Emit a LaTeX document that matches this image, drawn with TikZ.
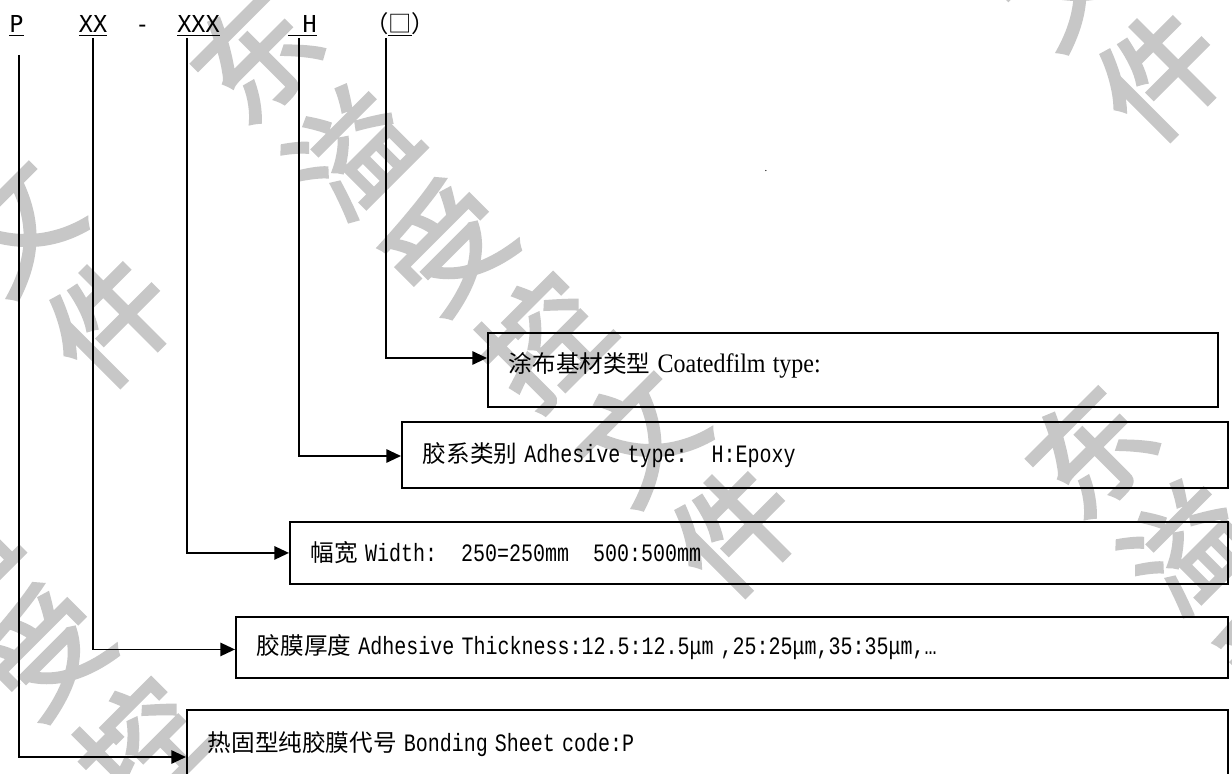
\documentclass[tikz,border=0pt]{standalone}
\usepackage{fontspec}
\setmainfont{Liberation Serif}
\setmonofont{Liberation Mono}[FakeStretch=0.8]
\newfontfamily\cjk{Noto Sans CJK SC}
\newfontfamily\wmfont{Noto Sans CJK SC}[FakeBold=3]
\newfontfamily\codefont{DejaVu Sans Mono}
\newfontfamily\narrowserif{Liberation Serif}[FakeStretch=0.9]
\usetikzlibrary{arrows.meta,calc}

\newcommand{\zh}[1]{{\cjk\fontsize{17.7}{20}\selectfont #1}}
\newcommand{\en}[1]{{\ttfamily\fontsize{18.75}{20}\selectfont #1}}
\newcommand{\gap}{\hspace*{18pt}}

\begin{document}
\begin{tikzpicture}[
        x=0.75pt, y=-0.75pt,
        >={Triangle[length=11pt,width=10pt]},
        entry/.style={rectangle, draw, line width=1.4pt, anchor=north west, inner xsep=15.75pt, inner ysep=0pt, align=left, font=\fontsize{16}{20}\selectfont},
        code/.style={anchor=base, inner sep=0pt, font=\codefont\fontsize{17.5}{20}\selectfont},
        wire/.style={->, line width=1.4pt},
        wm/.style={rotate=45, inner sep=0pt, text=black!22, font=\wmfont\fontsize{90}{90}\selectfont}
    ]

        \fill[white] (0,0) rectangle (1232,774);
        \useasboundingbox (0,0) rectangle (1232,774);
        \clip (0,0) rectangle (1232,774);

        % Watermark
        \foreach \ox/\oy [count=\j] in {255/55, 1090/450, 680/-401, -370/-155, -147/460}
            \foreach \ch [count=\i from 0] in {东,溢,受,控,文,件}
                \node[wm] (wm\j_\i) at (\ox+\i*96, \oy+\i*95) {\ch};

        % Code: P XX - XXX H (box)
        \node[code] (p) at (16.5,33) {\underline{P}};
        \node[code] (xx) at (93,33) {\underline{XX}};
        \node[code] (dash) at (142.5,33) {-};
        \node[code] (xxx) at (198.5,33) {\underline{XXX}};
        \node[code] (h) at (302.5,33) {\underline{\ H}};
        \node[code, font=\cjk\fontsize{17.5}{20}\selectfont] (cf) at (400,33) {（\underline{□}）};
        \node[inner sep=0pt, font=\fontsize{8}{8}\selectfont] (stray) at (766,171) {.};

        \coordinate (p_top) at (19,55);
        \coordinate (xx_top) at (93,38);
        \coordinate (xxx_top) at (187,38);
        \coordinate (h_top) at (299,38);
        \coordinate (cf_top) at (386,38);

        % Boxes
        \node[entry, text width=516pt, minimum height=55.5pt, text depth=11pt] (coat) at (487,332)
            {\zh{涂布基材类型} {\narrowserif\fontsize{20}{20}\selectfont Coatedfilm type:}};
        \node[entry, text width=588pt, minimum height=49.5pt] (adh) at (401,421)
            {\zh{胶系类别} \en{Adhesive type:\gap H:Epoxy}};
        \node[entry, text width=672pt, minimum height=46.5pt] (wid) at (289,521)
            {\zh{幅宽} \en{Width:\gap 250=250mm\gap 500:500mm}};
        \node[entry, text width=712.5pt, minimum height=45.75pt] (thk) at (235,616)
            {\zh{胶膜厚度} \en{Adhesive Thickness:12.5:12.5μm ,25:25μm,35:35μm,…}};
        \node[entry, text width=749.25pt, minimum height=51pt] (bond) at (186,709)
            {\zh{热固型纯胶膜代号} \en{Bonding Sheet code:P}};

        % Connectors
        \draw[wire] (cf_top) |- ($(coat.north west)+(0,26)$);
        \draw[wire] (h_top) |- ($(adh.north west)+(0,35)$);
        \draw[wire] (xxx_top) |- (wid.west);
        \draw[wire] (xx_top) |- ($(thk.west)+(0,2)$);
        \draw[wire] (p_top) |- ($(bond.north west)+(0,48)$);

    \end{tikzpicture}
\end{document}
